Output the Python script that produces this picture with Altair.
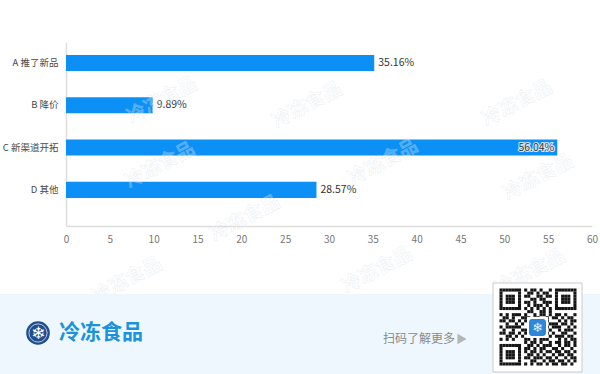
import altair as alt
import pandas as pd

# ---- chart data ----
CATEGORIES = ["A 推了新品", "B 降价", "C 新渠道开拓", "D 其他"]
VALUES = [35.16, 9.89, 56.04, 28.57]
X_TICKS = list(range(0, 61, 5))

BAR_COLOR = "#0c90f6"
FONT = "Noto Sans CJK SC"

# plot area geometry (padding around it holds axes and the footer banner)
PAD = {"left": 66, "top": 42, "right": 8, "bottom": 148}
W, H = 526, 184

df = pd.DataFrame({"cat": CATEGORIES, "val": VALUES})
df["label"] = df["val"].map(lambda v: f"{v:.2f}%")

base = alt.Chart(df)

x_enc = alt.X(
    "val:Q",
    scale=alt.Scale(domain=[0, 60], nice=False),
    axis=alt.Axis(values=X_TICKS, grid=False, ticks=False, domainColor="#dedede",
                  domainWidth=1.5, labelColor="#777777", labelFontSize=10,
                  labelPadding=8, labelFont=FONT, labelFlush=False, title=None),
)
y_enc = alt.Y(
    "cat:N",
    sort=CATEGORIES,
    scale=alt.Scale(paddingInner=0.62, paddingOuter=0.486, align=0.316),
    axis=alt.Axis(ticks=False, domainColor="#dedede", domainWidth=1.5,
                  labelColor="#4a4a4a", labelFontSize=9.5, labelPadding=8,
                  labelFont=FONT, title=None),
)

bars = base.mark_bar(color=BAR_COLOR).encode(x=x_enc, y=y_enc)

outside = base.transform_filter("datum.val < 50").mark_text(
    align="left", baseline="middle", dx=4, fontSize=10.5, color="#333333", font=FONT
).encode(x="val:Q", y=alt.Y("cat:N", sort=CATEGORIES), text="label:N")

inside_halo = base.transform_filter("datum.val >= 50").mark_text(
    align="right", baseline="middle", dx=-3, fontSize=10.5, font=FONT,
    stroke="white", strokeWidth=2.2, strokeOpacity=0.8, fill="white"
).encode(x="val:Q", y=alt.Y("cat:N", sort=CATEGORIES), text="label:N")

inside = base.transform_filter("datum.val >= 50").mark_text(
    align="right", baseline="middle", dx=-3, fontSize=10.5, font=FONT, color="#333333"
).encode(x="val:Q", y=alt.Y("cat:N", sort=CATEGORIES), text="label:N")

one = alt.Chart(pd.DataFrame({"k": [0]}))


def px(v, axis):
    """Page pixel -> plot-area pixel."""
    return v - (PAD["left"] if axis == "x" else PAD["top"])


# faint diagonal watermark text scattered across the page
WATERMARK_SPOTS = [(162, 100), (307, 105), (517, 103), (160, 165), (383, 162),
                   (538, 177), (245, 218), (127, 280), (377, 270), (530, 272)]
watermarks = []
for wx, wy in WATERMARK_SPOTS:
    common = dict(text="冷冻食品", angle=332, fontSize=19, fontWeight="bold", font=FONT,
                  align="center", baseline="middle")
    watermarks.append(one.mark_text(fill="white", fillOpacity=0.3, **common).encode(
        x=alt.value(px(wx, "x")), y=alt.value(px(wy, "y"))))
    watermarks.append(one.mark_text(fillOpacity=0, stroke="#a9bac8", strokeWidth=0.7,
                                    strokeOpacity=0.2, **common).encode(
        x=alt.value(px(wx, "x")), y=alt.value(px(wy, "y"))))

# footer banner
banner = one.mark_rect(color="#eef7fd").encode(
    x=alt.value(px(0, "x")), x2=alt.value(px(600, "x")),
    y=alt.value(px(294, "y")), y2=alt.value(px(374, "y")))

logo_circle = one.mark_circle(color="#1f4e8c", opacity=1, size=560).encode(
    x=alt.value(px(38, "x")), y=alt.value(px(333, "y")))
logo_ring = one.mark_circle(filled=False, color="white", strokeWidth=1, size=330).encode(
    x=alt.value(px(38, "x")), y=alt.value(px(333, "y")))
logo_flake = one.mark_text(text="❄", color="white", fontSize=17, align="center",
                           baseline="middle", font="DejaVu Sans").encode(
    x=alt.value(px(38, "x")), y=alt.value(px(334, "y")))
logo_text = one.mark_text(text="冷冻食品", color="#1a93dc", fontSize=21, fontWeight="bold",
                          font=FONT, align="left", baseline="middle").encode(
    x=alt.value(px(59, "x")), y=alt.value(px(333, "y")))

scan_text = one.mark_text(text="扫码了解更多", color="#8a8a8a", fontSize=12, font=FONT,
                          align="left", baseline="middle").encode(
    x=alt.value(px(383, "x")), y=alt.value(px(339, "y")))
scan_arrow = one.mark_point(shape="triangle-right", filled=True, color="#b5b5b5",
                            size=110, opacity=1).encode(
    x=alt.value(px(462, "x")), y=alt.value(px(339, "y")))

# QR code block
qr_box = one.mark_rect(fill="white", stroke="#cccccc", strokeWidth=1).encode(
    x=alt.value(px(493, "x")), x2=alt.value(px(582, "x")),
    y=alt.value(px(283, "y")), y2=alt.value(px(372, "y")))

QR_ROWS = [
    "1111111010110100101111111",
    "1000001001101011001000001",
    "1011101011001101101011101",
    "1011101000110110001011101",
    "1011101011010011101011101",
    "1000001001011101001000001",
    "1111111010101010101111111",
    "0000000001100110100000000",
    "1010111010010110101101001",
    "0110100111011001011010110",
    "1101101010110111000101011",
    "0010010101101000111011010",
    "1011111000101101011100101",
    "0100100110110010100101110",
    "1101101011001101010011001",
    "0011010100111010101110110",
    "1010100011010111000101011",
    "0000000010110100101101101",
    "1111111001101011100101101",
    "1000001011010110011010010",
    "1011101010110101101101101",
    "1011101001101010010110110",
    "1011101011011101101001011",
    "1000001000110010110110101",
    "1111111010101101011011010",
]
CELL = 3.08
QX0, QY0 = px(499.5, "x"), px(288.5, "y")
cells = [(r, c) for r, row in enumerate(QR_ROWS) for c, ch in enumerate(row) if ch == "1"]
qr_df = pd.DataFrame({
    "qx": [QX0 + c * CELL for r, c in cells],
    "qx2": [QX0 + (c + 1) * CELL for r, c in cells],
    "qy": [QY0 + r * CELL for r, c in cells],
    "qy2": [QY0 + (r + 1) * CELL for r, c in cells],
})
qr_modules = alt.Chart(qr_df).mark_rect(color="#151515").encode(
    x=alt.X("qx:Q", scale=None, axis=None), x2="qx2:Q",
    y=alt.Y("qy:Q", scale=None, axis=None), y2="qy2:Q")

qr_logo_bg = one.mark_rect(fill="white").encode(
    x=alt.value(px(527, "x")), x2=alt.value(px(548, "x")),
    y=alt.value(px(317, "y")), y2=alt.value(px(338, "y")))
qr_logo = one.mark_rect(fill="#2f86d6", cornerRadius=3).encode(
    x=alt.value(px(529, "x")), x2=alt.value(px(546, "x")),
    y=alt.value(px(319, "y")), y2=alt.value(px(336, "y")))
qr_logo_flake = one.mark_text(text="❄", color="#d8efff", fontSize=13, align="center",
                              baseline="middle", font="DejaVu Sans").encode(
    x=alt.value(px(537.5, "x")), y=alt.value(px(328, "y")))

chart = alt.layer(
    bars, outside, inside_halo, inside, *watermarks,
    banner, logo_circle, logo_ring, logo_flake, logo_text, scan_text, scan_arrow,
    qr_box, qr_modules, qr_logo_bg, qr_logo, qr_logo_flake,
).properties(
    width=W, height=H, padding=PAD, autosize=alt.AutoSizeParams(type="none"),
    background="white",
).configure_view(stroke=None)

chart.save("out.html", embed_options={"renderer": "svg", "actions": False})
